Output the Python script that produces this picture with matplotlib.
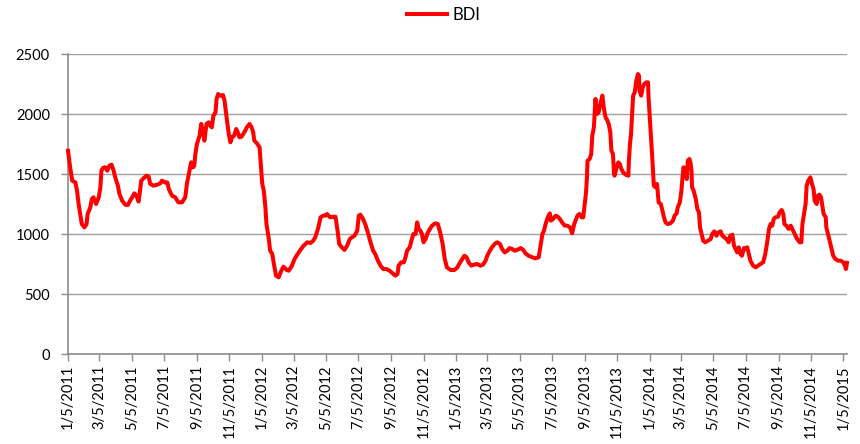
import numpy as np
import matplotlib
matplotlib.use('Agg')
import matplotlib.pyplot as plt
import matplotlib.dates as mdates
from datetime import date, timedelta

# Baltic Dry Index; days counted from 2011-01-05
start = date(2011, 1, 5)

days = [0, 4, 8, 14, 17, 20, 23, 26, 31, 35, 37, 42, 45, 48, 53, 58, 61, 63, 66, 70,
        74, 78, 82, 86, 89, 94, 97, 102, 108, 113, 117, 121, 125, 129, 133, 135, 138, 143, 148, 152,
        155, 161, 168, 174, 177, 183,
        187, 190, 196, 202, 208, 215, 221, 224, 229, 232, 236, 238, 240, 243, 248, 251, 254, 257, 261, 265,
        268, 271, 274, 278, 280, 283, 287, 292, 295, 298, 300, 303, 306, 309, 313, 317, 320, 323, 327, 330,
        334, 337, 342, 346, 349, 351, 356, 361,
        363, 366, 369, 372, 374, 378, 381, 385, 388, 392, 397, 402, 406, 412, 416, 422, 427, 432, 438, 444,
        451, 457, 462, 466, 471, 476, 481, 485, 488, 494, 500, 504, 508, 511, 516, 521, 526, 531, 535, 540,
        545, 548, 551,
        556, 560, 565, 570, 575, 579, 584, 589, 594, 600, 606, 612, 617, 621, 623, 628, 633, 636, 639, 644,
        648, 651, 655, 658, 661, 664, 667, 670, 674, 677, 682, 686, 692, 697, 702, 706, 710, 714, 721, 728,
        733, 738, 743, 747,
        751, 755, 760, 765, 771, 777, 782, 787, 790, 795, 799, 804, 809, 814, 818, 823, 828, 832, 837, 842,
        846, 853, 858, 862, 868, 875, 881, 887, 890, 894, 897, 900, 904, 908, 910, 914, 919, 923, 927, 931,
        936,
        941, 946, 950, 954, 960, 964, 968, 971, 973, 976, 978, 979, 983, 986, 988, 991, 994, 997, 1000, 1003,
        1007, 1010, 1013, 1016, 1019, 1022, 1024, 1027, 1029, 1030, 1034, 1037, 1040, 1042, 1046, 1051, 1056, 1057, 1059, 1061,
        1063, 1065, 1068, 1071, 1074, 1076, 1077, 1080, 1083, 1086, 1090, 1093, 1094, 1096, 1099, 1101, 1104, 1107, 1110, 1113,
        1117, 1120, 1123, 1126, 1130, 1135, 1140, 1143, 1147, 1149, 1153, 1156, 1158, 1160, 1164, 1166, 1168, 1171, 1173, 1175,
        1176, 1179, 1183, 1186, 1189, 1191, 1194, 1197, 1201, 1206, 1211, 1214, 1218, 1222, 1226, 1230, 1233, 1237, 1241, 1245,
        1248, 1252, 1255, 1258, 1261, 1264, 1267, 1270, 1274, 1277, 1280, 1283, 1286, 1291, 1296, 1300, 1305,
        1310, 1314, 1318, 1321, 1324, 1327, 1330, 1333, 1338, 1341, 1345, 1348, 1350, 1354, 1358, 1362, 1365, 1368, 1371, 1374,
        1379, 1382, 1384, 1387, 1390, 1392, 1395, 1399, 1402, 1405, 1407, 1411, 1413, 1416, 1419, 1422, 1424, 1428, 1429, 1433,
        1436, 1439, 1442, 1446, 1451, 1456, 1461, 1464, 1466, 1468]

bdi = [1694, 1556, 1444, 1430, 1361, 1250, 1167, 1083, 1055, 1083, 1167, 1222, 1292, 1306, 1250, 1306, 1389, 1528, 1550, 1556,
       1528, 1569, 1578, 1528, 1472, 1403, 1333, 1278, 1244, 1242, 1278, 1306, 1339, 1319, 1270, 1333, 1444, 1467, 1486, 1478,
       1417, 1403, 1411, 1422, 1444, 1430,
       1430, 1375, 1319, 1306, 1264, 1264, 1306, 1417, 1528, 1597, 1556, 1569, 1667, 1750, 1819, 1917, 1861, 1778, 1917, 1931,
       1903, 1889, 1986, 2014, 2125, 2167, 2153, 2158, 2111, 2000, 1931, 1833, 1764, 1806, 1819, 1875, 1847, 1806, 1811, 1833,
       1861, 1889, 1917, 1889, 1847, 1778, 1756, 1722,
       1600, 1420, 1360, 1222, 1083, 972, 861, 833, 750, 653, 639, 694, 728, 700, 694, 736, 792, 828, 867, 903,
       931, 925, 944, 972, 1042, 1139, 1153, 1153, 1167, 1139, 1144, 1144, 1028, 917, 889, 867, 903, 958, 972, 986,
       1028, 1153, 1161,
       1125, 1083, 1014, 931, 861, 833, 778, 736, 708, 708, 694, 672, 653, 667, 736, 764, 764, 806, 861, 889,
       958, 1000, 1000, 1097, 1042, 1028, 1000, 931, 958, 1000, 1042, 1069, 1089, 1083, 1000, 917, 792, 722, 700, 700,
       717, 756, 792, 819,
       806, 764, 736, 744, 750, 736, 744, 778, 819, 861, 889, 917, 931, 917, 875, 847, 861, 883, 875, 861,
       867, 883, 867, 839, 819, 806, 797, 806, 889, 1000, 1028, 1083, 1139, 1172, 1111, 1125, 1153, 1144, 1125, 1097,
       1070,
       1069, 1056, 1006, 1083, 1153, 1167, 1139, 1139, 1222, 1333, 1472, 1611, 1625, 1667, 1819, 1889, 2125, 2000, 2014, 2083,
       2153, 2042, 1972, 1950, 1917, 1847, 1694, 1667, 1500, 1486, 1556, 1597, 1583, 1550, 1514, 1494, 1486, 1611, 1750, 1833,
       2000, 2153, 2181, 2278, 2333, 2319, 2194, 2153, 2222, 2250, 2264, 2264, 2139, 2000, 1806, 1639, 1403, 1389, 1417, 1264,
       1250, 1200, 1140, 1097, 1083, 1089, 1111, 1153, 1172, 1222, 1264, 1361, 1472, 1556, 1486, 1458, 1611, 1625, 1597, 1528,
       1389, 1361, 1292, 1208, 1181, 1056, 1000, 944, 931, 944, 958, 1000, 1022, 986, 1014, 1022, 986, 972, 958, 931,
       986, 994, 903, 875, 847, 889, 833, 819, 883, 875, 889, 833, 778, 736, 722, 736, 750,
       764, 833, 944, 1042, 1083, 1069, 1125, 1139, 1144, 1181, 1200, 1167, 1083, 1069, 1042, 1069, 1042, 1014, 986, 958,
       931, 931, 1083, 1167, 1250, 1403, 1444, 1472, 1417, 1375, 1278, 1250, 1319, 1328, 1306, 1222, 1167, 1139, 1056, 986,
       931, 875, 819, 792, 778, 778, 764, 736, 708, 760]

tick_dates = [date(y, m, 5) for y in range(2011, 2015) for m in (1, 3, 5, 7, 9, 11)] + [date(2015, 1, 5)]
tick_labels = ['%d/%d/%d' % (d.month, d.day, d.year) for d in tick_dates]

dates = [start + timedelta(days=d) for d in days]

plt.rcParams['font.family'] = ['Lato', 'DejaVu Sans']

fig = plt.figure(figsize=(8.6, 4.44), dpi=100)
ax = fig.add_axes([68 / 860, 90 / 444, 779 / 860, 300 / 444])

ax.plot(dates, bdi, color='#ff0000', lw=2.9, solid_joinstyle='round', label='BDI',
        zorder=3, clip_on=False)

ax.set_ylim(0, 2500)
ax.set_yticks(range(0, 2501, 500))
ax.set_xlim(dates[0], dates[-1])
ax.set_xticks(tick_dates)
ax.set_xticklabels(tick_labels, rotation=90)

ax.grid(axis='y', color='#a0a0a0', lw=1)
ax.set_axisbelow(True)
for s in ('top', 'right'):
    ax.spines[s].set_visible(False)
for s in ('left', 'bottom'):
    ax.spines[s].set_color('#8c8c8c')
    ax.spines[s].set_linewidth(1.2)
ax.tick_params(axis='both', colors='#8c8c8c', length=5, width=1, labelsize=10.5, labelcolor='black')
ax.tick_params(axis='y', pad=8)
ax.tick_params(axis='x', pad=3)

fig.legend(loc='center', bbox_to_anchor=(0.516, 1 - 15 / 444), frameon=False,
           fontsize=12, handlelength=2.4, handletextpad=0.3)

plt.savefig('out.png', dpi=100)
